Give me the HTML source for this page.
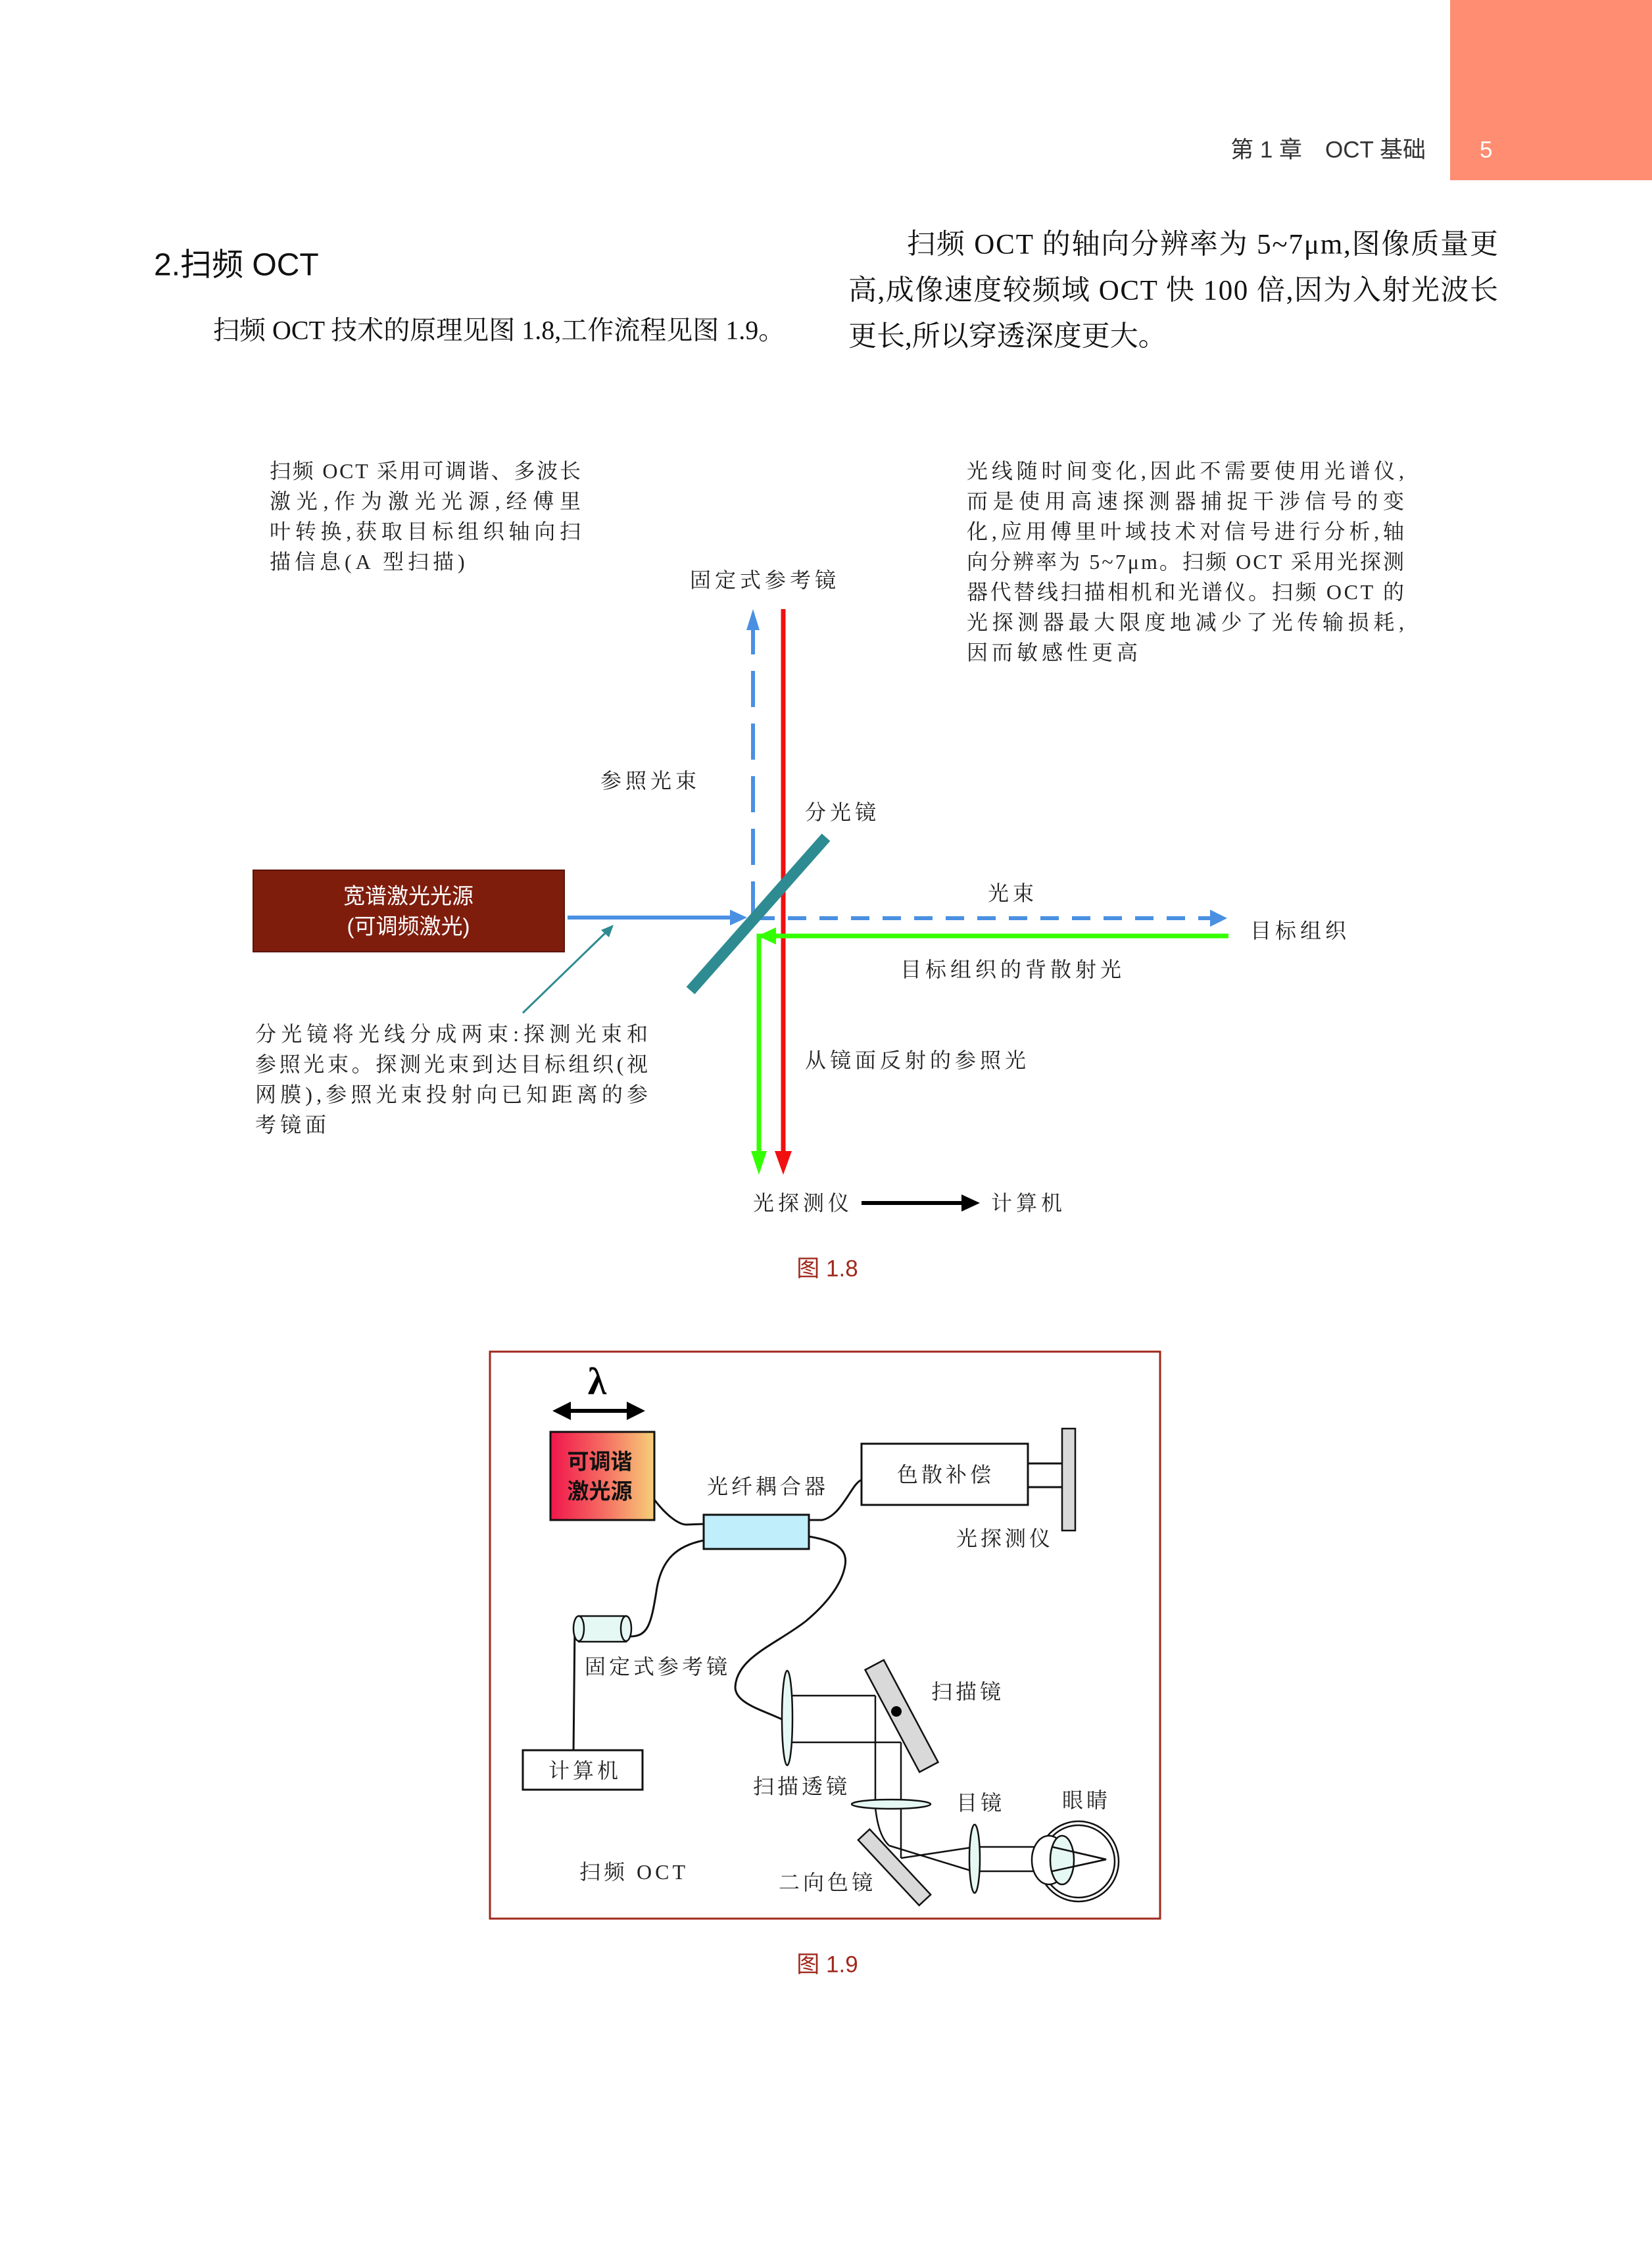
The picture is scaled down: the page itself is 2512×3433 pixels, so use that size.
<!DOCTYPE html>
<html><head><meta charset="utf-8"><style>
html,body{margin:0;padding:0;background:#fff}
svg{display:block}
.s{font-family:"Liberation Serif","Noto Serif CJK SC",serif}
.h{font-family:"Liberation Sans","Noto Sans CJK SC",sans-serif}
</style></head><body>
<svg width="2512" height="3433" viewBox="0 0 2512 3433" xmlns="http://www.w3.org/2000/svg">
<defs>
<linearGradient id="g" x1="0" x2="1" y1="0" y2="0"><stop offset="0" stop-color="#f0164b"/><stop offset="0.5" stop-color="#f66a62"/><stop offset="1" stop-color="#f6cf78"/></linearGradient>
</defs>
<rect x="2205" y="0" width="307" height="274" fill="#ff8d72"/>
<text class="h" x="2168" y="228" font-size="35" fill="#333" text-anchor="end" dominant-baseline="central">第 1 章　OCT 基础</text>
<text class="h" x="2250" y="228" font-size="35" fill="#fff" dominant-baseline="central">5</text>

<text class="h" x="234" y="403" font-size="48" fill="#111" dominant-baseline="central">2.扫频 OCT</text>
<text class="s" x="324" y="502" font-size="40" fill="#111" dominant-baseline="central">扫频 OCT 技术的原理见图 1.8,工作流程见图 1.9。</text>
<g class="s" font-size="43" fill="#111" dominant-baseline="central">
<text x="1379" y="372" textLength="899" lengthAdjust="spacing">扫频 OCT 的轴向分辨率为 5~7μm,图像质量更</text>
<text x="1290" y="442" textLength="988" lengthAdjust="spacing">高,成像速度较频域 OCT 快 100 倍,因为入射光波长</text>
<text x="1290" y="512">更长,所以穿透深度更大。</text>
</g>

<!-- Fig 1.8 -->
<g class="s" font-size="32" fill="#222" dominant-baseline="central">
<text x="410" y="716" textLength="473" lengthAdjust="spacing">扫频 OCT 采用可调谐、多波长</text>
<text x="410" y="762" textLength="473" lengthAdjust="spacing">激光,作为激光光源,经傅里</text>
<text x="410" y="808" textLength="473" lengthAdjust="spacing">叶转换,获取目标组织轴向扫</text>
<text x="410" y="854" letter-spacing="6">描信息(A 型扫描)</text>
<text x="1049" y="882" letter-spacing="6">固定式参考镜</text>
<text x="1470" y="716" textLength="665" lengthAdjust="spacing">光线随时间变化,因此不需要使用光谱仪,</text>
<text x="1470" y="762" textLength="665" lengthAdjust="spacing">而是使用高速探测器捕捉干涉信号的变</text>
<text x="1470" y="808" textLength="665" lengthAdjust="spacing">化,应用傅里叶域技术对信号进行分析,轴</text>
<text x="1470" y="854" textLength="665" lengthAdjust="spacing">向分辨率为 5~7μm。扫频 OCT 采用光探测</text>
<text x="1470" y="900" textLength="665" lengthAdjust="spacing">器代替线扫描相机和光谱仪。扫频 OCT 的</text>
<text x="1470" y="946" textLength="665" lengthAdjust="spacing">光探测器最大限度地减少了光传输损耗,</text>
<text x="1470" y="992" letter-spacing="6">因而敏感性更高</text>
<text x="913" y="1187" letter-spacing="6">参照光束</text>
<text x="1224" y="1235" letter-spacing="6">分光镜</text>
<text x="1502" y="1358" letter-spacing="6">光束</text>
<text x="1901" y="1415" letter-spacing="6">目标组织</text>
<text x="1369" y="1474" letter-spacing="6">目标组织的背散射光</text>
<text x="1224" y="1612" letter-spacing="6">从镜面反射的参照光</text>
<text x="388" y="1572" textLength="597" lengthAdjust="spacing">分光镜将光线分成两束:探测光束和</text>
<text x="388" y="1618" textLength="597" lengthAdjust="spacing">参照光束。探测光束到达目标组织(视</text>
<text x="388" y="1664" textLength="597" lengthAdjust="spacing">网膜),参照光束投射向已知距离的参</text>
<text x="388" y="1710" letter-spacing="6">考镜面</text>
<text x="1145" y="1829" letter-spacing="6">光探测仪</text>
<text x="1507" y="1829" letter-spacing="6">计算机</text>
</g>
<!-- blue dashed up -->
<line x1="1145" y1="1395" x2="1145" y2="955" stroke="#4a90e2" stroke-width="6" stroke-dasharray="55,25"/>
<polygon points="1145,926 1135,958 1155,958" fill="#4a90e2"/>
<!-- source box -->
<rect x="385" y="1323" width="473" height="124" fill="#7f1d0d" stroke="#5a140a" stroke-width="2"/>
<text class="h" x="621" y="1362" font-size="33" fill="#fff" text-anchor="middle" dominant-baseline="central">宽谱激光光源</text>
<text class="h" x="621" y="1408" font-size="33" fill="#fff" text-anchor="middle" dominant-baseline="central">(可调频激光)</text>
<!-- blue horizontal -->
<line x1="863" y1="1395" x2="1115" y2="1395" stroke="#4a90e2" stroke-width="6"/>
<polygon points="1136,1395 1110,1383 1110,1407" fill="#4a90e2"/>
<line x1="1150" y1="1396" x2="1840" y2="1396" stroke="#4a90e2" stroke-width="6" stroke-dasharray="28,20"/>
<polygon points="1866,1396 1840,1383 1840,1409" fill="#4a90e2"/>
<!-- red -->
<line x1="1191" y1="926" x2="1191" y2="1755" stroke="#f01010" stroke-width="7"/>
<polygon points="1191,1786 1178,1750 1204,1750" fill="#f01010"/>
<!-- green -->
<polyline points="1868,1423 1154,1423 1154,1755" fill="none" stroke="#33ff00" stroke-width="7"/>
<polygon points="1152,1423 1180,1410 1180,1436" fill="#33ff00"/>
<polygon points="1154,1786 1142,1750 1166,1750" fill="#33ff00"/>
<!-- splitter -->
<line x1="1050" y1="1506" x2="1256" y2="1273" stroke="#2e8b92" stroke-width="17"/>
<!-- thin teal arrow -->
<line x1="795" y1="1540" x2="925" y2="1414" stroke="#2e8b92" stroke-width="3"/>
<polygon points="933,1406 914,1414 926,1425" fill="#2e8b92"/>
<!-- black arrow -->
<line x1="1310" y1="1829" x2="1465" y2="1829" stroke="#000" stroke-width="6"/>
<polygon points="1490,1829 1462,1816 1462,1842" fill="#000"/>
<text class="h" x="1258" y="1929" font-size="35" fill="#a0281c" text-anchor="middle" dominant-baseline="central">图 1.8</text>

<!-- Fig 1.9 -->
<rect x="745" y="2055" width="1019" height="862" fill="none" stroke="#a0281c" stroke-width="3"/>
<text class="s" x="908" y="2100" font-size="58" font-weight="bold" text-anchor="middle" dominant-baseline="central">λ</text>
<line x1="865" y1="2145" x2="955" y2="2145" stroke="#000" stroke-width="6"/>
<polygon points="840,2145 868,2131 868,2159" fill="#000"/>
<polygon points="981,2145 953,2131 953,2159" fill="#000"/>
<rect x="837" y="2177" width="158" height="134" fill="url(#g)" stroke="#111" stroke-width="3"/>
<g class="h" font-size="33" font-weight="bold" fill="#111" text-anchor="middle" dominant-baseline="central">
<text x="912" y="2222">可调谐</text><text x="912" y="2267">激光源</text></g>
<g fill="none" stroke="#111" stroke-width="3">
<path d="M995,2280 C1010,2300 1030,2318 1044,2318 L1070,2317"/>
<path d="M1230,2311 L1250,2311 C1280,2305 1295,2255 1310,2250"/>
<path d="M1070,2342 C1030,2350 1005,2370 998,2420 C990,2470 985,2488 958,2488"/>
<path d="M1230,2336 C1265,2342 1290,2352 1285,2380 C1280,2410 1255,2440 1225,2465 C1180,2500 1120,2520 1118,2565 C1118,2590 1160,2600 1189,2614"/>
<path d="M874,2470 L872,2665"/>
<line x1="1563" y1="2225" x2="1615" y2="2225"/><line x1="1563" y1="2261" x2="1615" y2="2261"/>
</g>
<rect x="1070" y="2303" width="160" height="52" fill="#c0eefa" stroke="#111" stroke-width="3"/>
<rect x="1310" y="2195" width="253" height="93" fill="#fff" stroke="#111" stroke-width="3"/>
<rect x="1615" y="2172" width="20" height="155" fill="#d9d9d9" stroke="#111" stroke-width="2.5"/>
<!-- cylinder -->
<rect x="880" y="2457" width="72" height="39" fill="#e6f8f4" stroke="#111" stroke-width="2.5"/>
<ellipse cx="952" cy="2476" rx="8" ry="19" fill="#e6f8f4" stroke="#111" stroke-width="2.5"/>
<ellipse cx="880" cy="2476" rx="8" ry="19" fill="#e6f8f4" stroke="#111" stroke-width="2.5"/>
<rect x="795" y="2661" width="182" height="60" fill="#fff" stroke="#111" stroke-width="3"/>
<!-- optics -->
<g fill="none" stroke="#111" stroke-width="2.5">
<line x1="1205" y1="2578" x2="1331" y2="2578"/><line x1="1205" y1="2649" x2="1370" y2="2649"/>
<line x1="1331" y1="2578" x2="1331" y2="2743"/><line x1="1370" y1="2649" x2="1370" y2="2825"/>
<path d="M1331,2748 C1334,2775 1340,2795 1352,2806"/>
<line x1="1352" y1="2806" x2="1476" y2="2844"/><line x1="1370" y1="2825" x2="1476" y2="2809"/>
<line x1="1488" y1="2808" x2="1600" y2="2808"/><line x1="1488" y1="2845" x2="1600" y2="2845"/>
<line x1="1600" y1="2808" x2="1682" y2="2827"/><line x1="1600" y1="2845" x2="1682" y2="2827"/>
</g>
<ellipse cx="1197" cy="2612" rx="8" ry="72" fill="#e6f8f4" stroke="#111" stroke-width="2.5"/>
<g transform="translate(1371,2609) rotate(-28)"><rect x="-16" y="-88" width="32" height="176" fill="#d9d9d9" stroke="#111" stroke-width="2.5"/></g>
<circle cx="1363" cy="2602" r="8" fill="#000"/>
<ellipse cx="1355" cy="2743" rx="60" ry="7" fill="#e6f8f4" stroke="#111" stroke-width="2.5"/>
<g transform="translate(1360,2839) rotate(-43)"><rect x="-12" y="-68" width="24" height="136" fill="#d9d9d9" stroke="#111" stroke-width="2.5"/></g>
<ellipse cx="1482" cy="2826" rx="8" ry="52" fill="#e6f8f4" stroke="#111" stroke-width="2.5"/>
<circle cx="1640" cy="2830" r="61" fill="none" stroke="#111" stroke-width="2.5"/>
<circle cx="1640" cy="2830" r="55" fill="none" stroke="#111" stroke-width="2.5"/>
<ellipse cx="1595" cy="2828" rx="26" ry="37" fill="#fff" stroke="#111" stroke-width="2.5"/>
<ellipse cx="1615" cy="2828" rx="18" ry="37" fill="#e6f8f4" stroke="#111" stroke-width="2.5"/>
<g stroke="#111" stroke-width="2.5"><line x1="1600" y1="2808" x2="1682" y2="2827"/><line x1="1600" y1="2845" x2="1682" y2="2827"/></g>
<g class="s" font-size="32" fill="#222" dominant-baseline="central" letter-spacing="5">
<text x="1075" y="2260">光纤耦合器</text>
<text x="1364" y="2242">色散补偿</text>
<text x="1454" y="2339">光探测仪</text>
<text x="889" y="2534">固定式参考镜</text>
<text x="834" y="2692">计算机</text>
<text x="1416" y="2572">扫描镜</text>
<text x="1145" y="2716">扫描透镜</text>
<text x="1454" y="2741">目镜</text>
<text x="1615" y="2737">眼睛</text>
<text x="881" y="2846">扫频 OCT</text>
<text x="1184" y="2862">二向色镜</text>
</g>
<text class="h" x="1258" y="2987" font-size="35" fill="#a0281c" text-anchor="middle" dominant-baseline="central">图 1.9</text>
</svg>
</body></html>
